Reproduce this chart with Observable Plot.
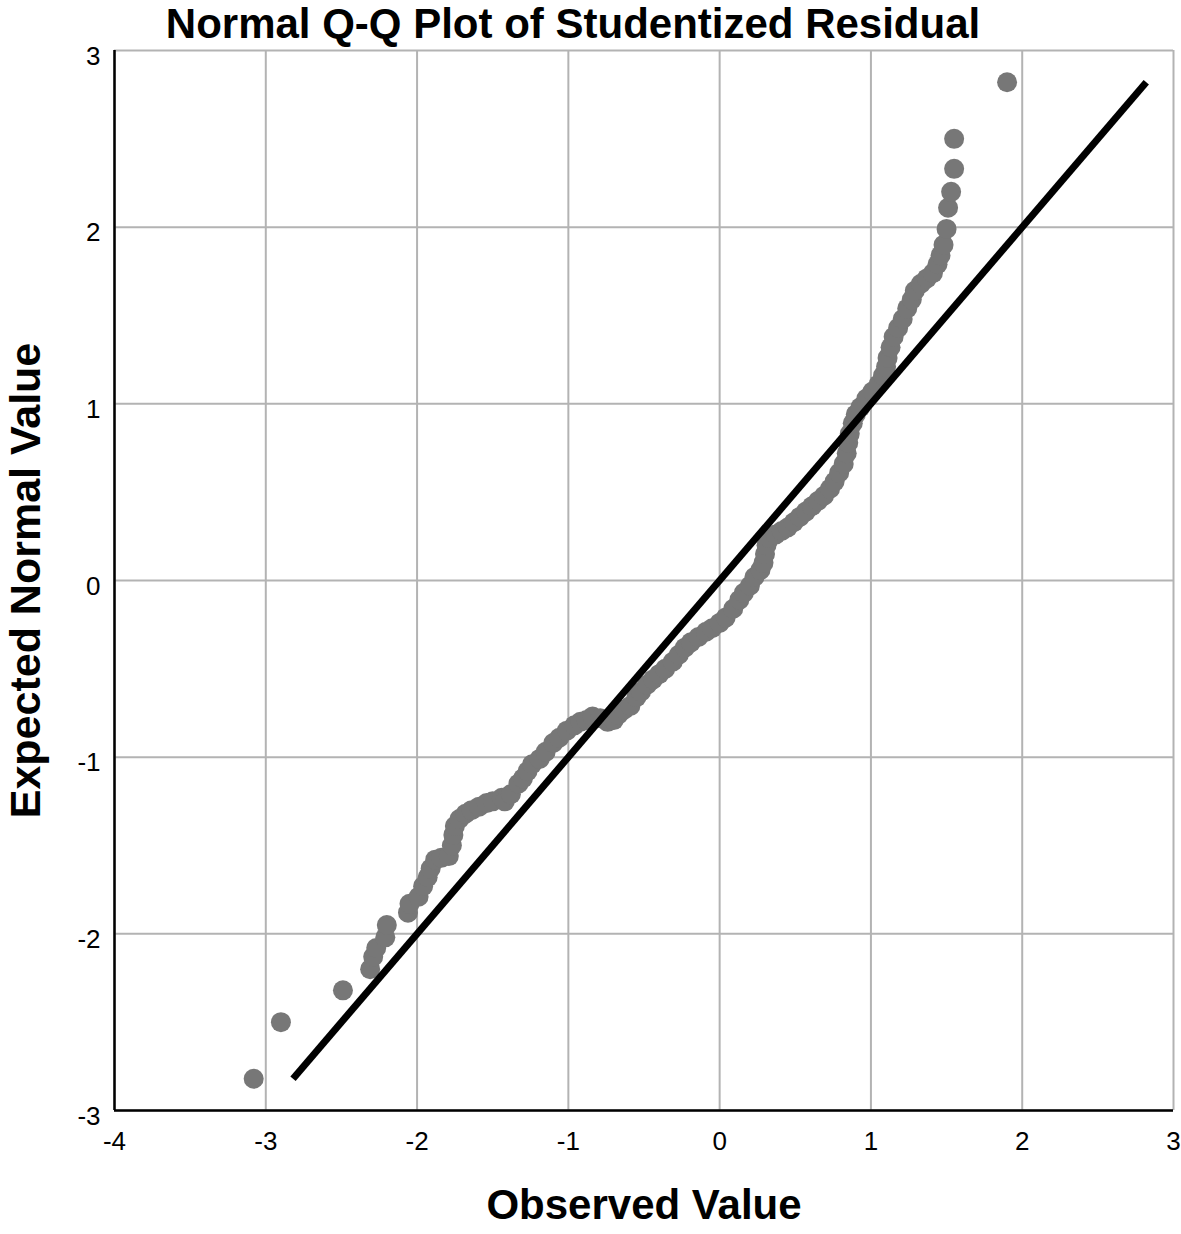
<!DOCTYPE html>
<html>
<head>
<meta charset="utf-8">
<script src="https://cdn.jsdelivr.net/npm/d3@7"></script>
<script src="https://cdn.jsdelivr.net/npm/@observablehq/plot@0.6"></script>
<style>
  html, body { margin: 0; padding: 0; background: #fff; }
  #chart svg { display: block; }
</style>
</head>
<body>
<div id="chart"></div>
<script>
const titleText = "Normal Q-Q Plot of Studentized Residual";
const xTitle = "Observed Value";
const yTitle = "Expected Normal Value";
const xTicks = [-4, -3, -2, -1, 0, 1, 2, 3];
const yTicks = [-3, -2, -1, 0, 1, 2, 3];

// Observed (x) and expected normal (y) values
const observed = [
  -3.08, -2.90, -2.49, -2.31, -2.29, -2.27, -2.21, -2.20, -2.06, -2.05,
  -1.99, -1.96, -1.93, -1.91, -1.88, -1.84, -1.79, -1.77, -1.76, -1.75,
  -1.72, -1.68, -1.64, -1.59, -1.54, -1.50, -1.44, -1.42, -1.38, -1.33,
  -1.30, -1.27, -1.24, -1.19, -1.15, -1.10, -1.06, -1.01, -0.96, -0.92,
  -0.88, -0.84, -0.79, -0.74, -0.70, -0.67, -0.63, -0.59, -0.55, -0.52,
  -0.48, -0.44, -0.40, -0.36, -0.31, -0.27, -0.23, -0.19, -0.14, -0.09,
  -0.05, 0.00, 0.04, 0.09, 0.13, 0.16, 0.20, 0.23, 0.27, 0.29,
  0.30, 0.31, 0.33, 0.37, 0.41, 0.45, 0.49, 0.53, 0.57, 0.61,
  0.65, 0.69, 0.73, 0.76, 0.79, 0.82, 0.84, 0.85, 0.86, 0.88,
  0.90, 0.93, 0.97, 1.01, 1.05, 1.08, 1.10, 1.11, 1.13, 1.15,
  1.18, 1.21, 1.24, 1.27, 1.29, 1.33, 1.37, 1.41, 1.44, 1.46,
  1.48, 1.50, 1.51, 1.53, 1.55, 1.55, 1.90
];
const expected = [
  -2.82, -2.50, -2.32, -2.20, -2.13, -2.08, -2.02, -1.95, -1.88, -1.83,
  -1.79, -1.73, -1.68, -1.63, -1.58, -1.57, -1.56, -1.50, -1.44, -1.39,
  -1.35, -1.32, -1.30, -1.28, -1.26, -1.25, -1.23, -1.25, -1.21, -1.15,
  -1.12, -1.08, -1.04, -1.01, -0.97, -0.92, -0.89, -0.85, -0.82, -0.80,
  -0.79, -0.77, -0.78, -0.80, -0.79, -0.76, -0.73, -0.71, -0.66, -0.63,
  -0.59, -0.56, -0.53, -0.50, -0.46, -0.42, -0.38, -0.35, -0.32, -0.29,
  -0.27, -0.24, -0.21, -0.16, -0.11, -0.07, -0.03, 0.02, 0.06, 0.10,
  0.15, 0.20, 0.24, 0.26, 0.28, 0.30, 0.33, 0.36, 0.39, 0.42,
  0.45, 0.48, 0.52, 0.56, 0.61, 0.66, 0.72, 0.78, 0.83, 0.89,
  0.94, 0.98, 1.03, 1.07, 1.11, 1.16, 1.21, 1.26, 1.32, 1.38,
  1.43, 1.48, 1.54, 1.59, 1.64, 1.68, 1.71, 1.74, 1.79, 1.84,
  1.90, 1.99, 2.11, 2.20, 2.33, 2.50, 2.82
];

// Reference line endpoints
const lineX = [-2.82, 2.82];
const lineY = [-2.82, 2.82];

const points = observed.map((v, i) => ({obs: v, exp: expected[i]}));
const refLine = lineX.map((v, i) => ({x: v, y: lineY[i]}));

const fmt = d => String(d);
const gridStyle = {stroke: "#b3b3b3", strokeOpacity: 1, strokeWidth: 2};

const chart = Plot.plot({
  width: 1181,
  height: 1234,
  marginLeft: 114,
  marginRight: 8,
  marginTop: 50,
  marginBottom: 124,
  x: {domain: [-4, 3]},
  y: {domain: [-3, 3]},
  style: {fontFamily: "'Liberation Sans', Arial, sans-serif", background: "#fff", color: "#000"},
  marks: [
    Plot.gridX(xTicks, gridStyle),
    Plot.gridY(yTicks, gridStyle),
    Plot.axisX(xTicks, {tickSize: 0, tickPadding: 21, fontSize: 26, tickFormat: fmt, label: null}),
    Plot.axisY(yTicks, {tickSize: 0, tickPadding: 14, fontSize: 26, dy: 6, tickFormat: fmt, label: null}),
    Plot.dot(points, {x: "obs", y: "exp", r: 10, fill: "#777777"}),
    Plot.line(refLine, {x: "x", y: "y", stroke: "#000", strokeWidth: 7, strokeLinecap: "butt"}),
    Plot.ruleX([-4], {stroke: "#000", strokeWidth: 2.5}),
    Plot.ruleY([-3], {stroke: "#000", strokeWidth: 2.5}),
    Plot.text([titleText], {frameAnchor: "top", dx: -71, dy: -13, lineAnchor: "bottom", textAnchor: "middle", fontSize: 42, fontWeight: "bold", fill: "#000"}),
    Plot.text([xTitle], {frameAnchor: "bottom", dy: 108, lineAnchor: "bottom", textAnchor: "middle", fontSize: 42, fontWeight: "bold", fill: "#000"}),
    Plot.text([yTitle], {frameAnchor: "left", dx: -75, rotate: -90, lineAnchor: "bottom", textAnchor: "middle", fontSize: 43, fontWeight: "bold", fill: "#000"})
  ]
});
document.getElementById("chart").appendChild(chart);
</script>
</body>
</html>
